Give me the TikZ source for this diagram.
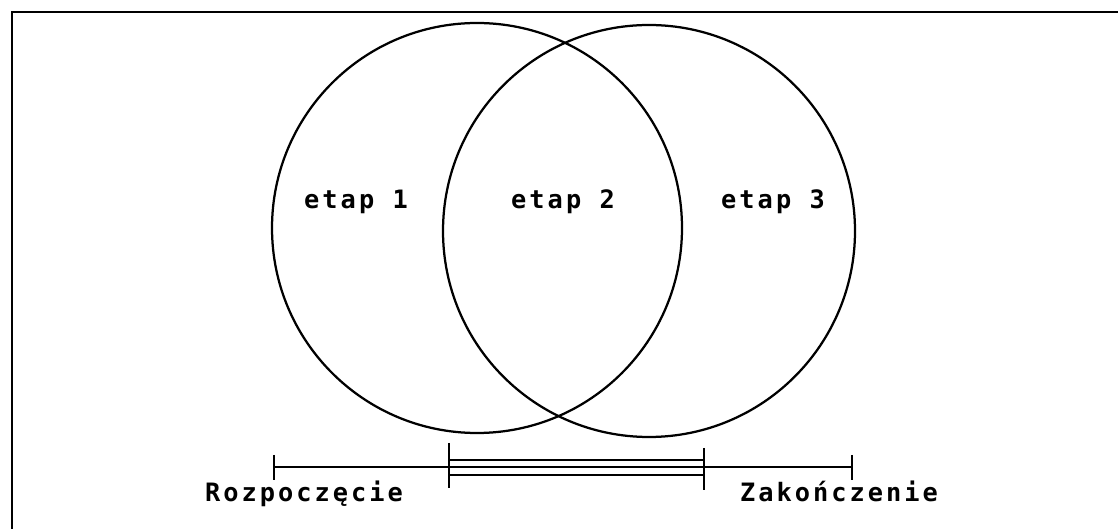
\documentclass[tikz,border=0pt]{standalone}
\usepackage{fontspec}
\usepackage{tikz}
\newfontfamily\dotfont[LetterSpace=12]{DejaVu Sans Mono}

\begin{document}
\begin{tikzpicture}[
	etap/.style={circle,draw,line width=1.6pt,minimum size=#1,inner sep=0pt},
	lbl/.style={font=\dotfont\bfseries\fontsize{18}{21}\selectfont,inner sep=0pt,anchor=base},
	bar/.style={line width=1.2pt},
	bigtick/.style={line width=2pt}]
	\useasboundingbox (0,0) rectangle (27.95,13.225);
	\draw[line width=1.4pt] (0.3,0) -- (0.3,12.925) -- (27.95,12.925);

	\node[etap=10.25cm] at (11.925,7.525) (c1) {};
	\node[etap=10.3cm] at (16.225,7.45) (c2) {};

	\node[lbl] at (8.9,8.0) (e1) {etap 1};
	\node[lbl] at (14.075,8.0) (e2) {etap 2};
	\node[lbl] at (19.325,8.0) (e3) {etap 3};

	\coordinate (start) at (6.85,1.55);
	\coordinate (p1) at (11.225,1.55);
	\coordinate (p2) at (17.6,1.55);
	\coordinate (end) at (21.3,1.55);

	\draw[bar] (start) -- (p1) -- (p2) -- (end);
	\draw[bar] ([yshift=0.175cm]p1) -- ([yshift=0.175cm]p2);
	\draw[bar] ([yshift=-0.2cm]p1) -- ([yshift=-0.2cm]p2);
	\draw[bar] ([yshift=0.3cm]start) -- ([yshift=-0.325cm]start);
	\draw[bar] ([yshift=0.3cm]end) -- ([yshift=-0.325cm]end);
	\draw[bigtick] ([yshift=0.6cm]p1) -- ([yshift=-0.525cm]p1);
	\draw[bigtick] ([yshift=0.475cm]p2) -- ([yshift=-0.575cm]p2);

	\node[lbl] at (7.6,0.675) (r) {Rozpoczęcie};
	\node[lbl] at (20.975,0.675) (z) {Zakończenie};
\end{tikzpicture}
\end{document}
